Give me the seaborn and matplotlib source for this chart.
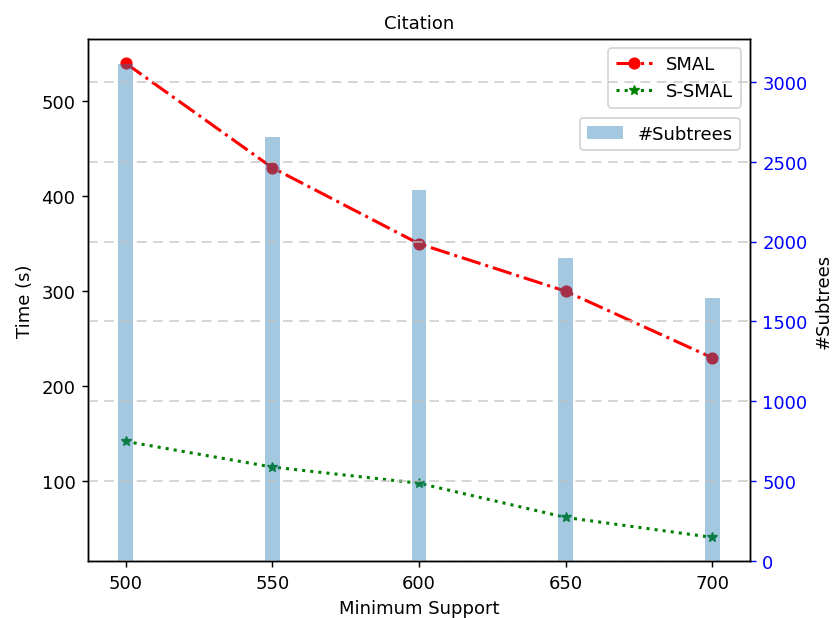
import numpy as np
import matplotlib
matplotlib.use('Agg')
import matplotlib.pyplot as plt
import seaborn as sns

# data
min_support = [500, 550, 600, 650, 700]
smal_time = [540, 430, 350, 300, 230]
ssmal_time = [142, 115, 98, 62, 41]
subtrees = [3110, 2655, 2321, 1898, 1647]

fig, ax = plt.subplots(figsize=(6.4, 4.76), dpi=130)
fig.subplots_adjust(left=0.106, right=0.901, top=0.935, bottom=0.092)

# time lines on the left axis
sns.lineplot(x=min_support, y=smal_time, ax=ax, color='r', marker='o',
             linestyle='-.', markeredgecolor='r', linewidth=1.7, label='SMAL')
sns.lineplot(x=min_support, y=ssmal_time, ax=ax, color='g', marker='*',
             linestyle=':', markeredgecolor='g', linewidth=1.7, label='S-SMAL')
ax.legend(loc='upper right')
ax.set_xlabel('Minimum Support')
ax.set_ylabel('Time (s)')
ax.set_xticks(min_support)
ax.set_title('Citation', fontsize=10)

# subtree counts on a twin axis
ax2 = ax.twinx()
ax2.bar(min_support, subtrees, width=5, alpha=0.4, label='#Subtrees')
ax2.set_ylabel('#Subtrees')
ax2.tick_params(axis='y', colors='b')
ax2.spines['right'].set_color('k')
ax2.yaxis.label.set_color('k')
ax2.grid(axis='y', linestyle=(0, (6, 4)), linewidth=0.9, color='silver', alpha=0.8)
ax2.legend(loc='upper right', bbox_to_anchor=(0.985, 0.85), borderaxespad=0)

fig.savefig('out.png', dpi=130)
